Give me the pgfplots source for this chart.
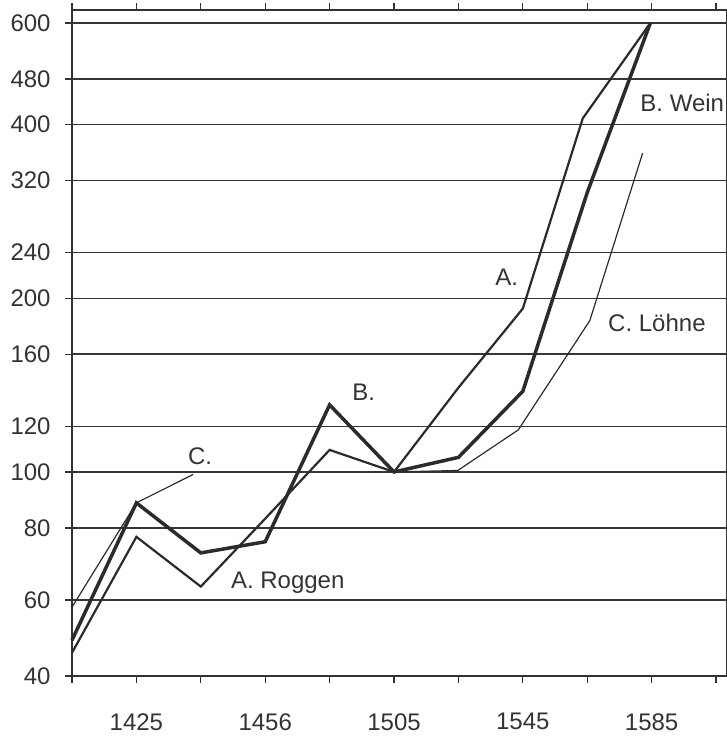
\documentclass[border=0pt]{standalone}
\usepackage{fontspec}
\setmainfont{Liberation Sans}
\usepackage{pgfplots}
\pgfplotsset{compat=1.18}
\definecolor{ink}{HTML}{333333}
\definecolor{gridc}{HTML}{363636}
\definecolor{linec}{HTML}{2b2b2b}
\begin{document}
\fontsize{12}{14}\selectfont
\begin{tikzpicture}
\begin{axis}[
  scale only axis, width=327.5pt, height=333pt,
  at={(0,0)}, anchor=south west,
  ymode=log, ymin=44.3, ymax=632, xmin=0, xmax=10.17,
  ytick={44.3,60,80,100,120,160,200,240,320,400,480,600},
  yticklabels={40,60,80,100,120,160,200,240,320,400,480,600},
  yminorticks=false,
  xtick={0,1,2,3,4,5,6,7,8,9,10},
  xticklabels={,1425,,1456,,1505,,1545,,1585,},
  ymajorgrids, major grid style={gridc, line width=0.75pt},
  axis line style={ink, line width=0.7pt},
  tick style={ink, line width=0.65pt},
  tick align=outside, major tick length=3.5pt,
  /pgf/number format/assume math mode=true,
  tick label style={font=\fontsize{12}{14}\selectfont, text=ink},
  yticklabel style={xshift=-3pt},
  xticklabel style={yshift=-11pt},
  clip=false,
]
% B. Wein (thick)
\addplot[linec, line width=1.75pt] coordinates {
  (0,51.1) (1,88.4) (2,72.4) (3,75.7) (4,130.7) (5,100) (6,106) (7,138) (8,305) (8.98,600)};
% A. Roggen (medium)
\addplot[linec, line width=1.1pt] coordinates {
  (0,48.6) (1,77.2) (2,63.3) (3,83) (4,109.2) (5,100) (6,140) (7,192) (7.93,410) (8.98,600)};
% C. Loehne (thin), two segments
\addplot[linec, line width=0.6pt] coordinates {
  (0,58.3) (1,88.4) (1.88,99)};
\addplot[linec, line width=0.6pt] coordinates {
  (5,100) (5.99,100.6) (6.93,118.3) (8.04,183) (8.86,357)};
\node[text=ink] at (axis cs:1.99,106.6) {C.};
\node[text=ink] at (axis cs:4.53,137.6) {B.};
\node[text=ink] at (axis cs:6.75,217.8) {A.};
\node[text=ink] at (axis cs:3.35,64.2) {A. Roggen};
\node[text=ink, anchor=west, inner sep=0pt] at (axis cs:8.82,436) {B. Wein};
\node[text=ink, anchor=west, inner sep=0pt] at (axis cs:8.32,181) {C. Löhne};
\end{axis}
\pgfresetboundingbox
\path (-36pt,-30pt) rectangle (327.5pt,338pt);
\end{tikzpicture}
\end{document}
